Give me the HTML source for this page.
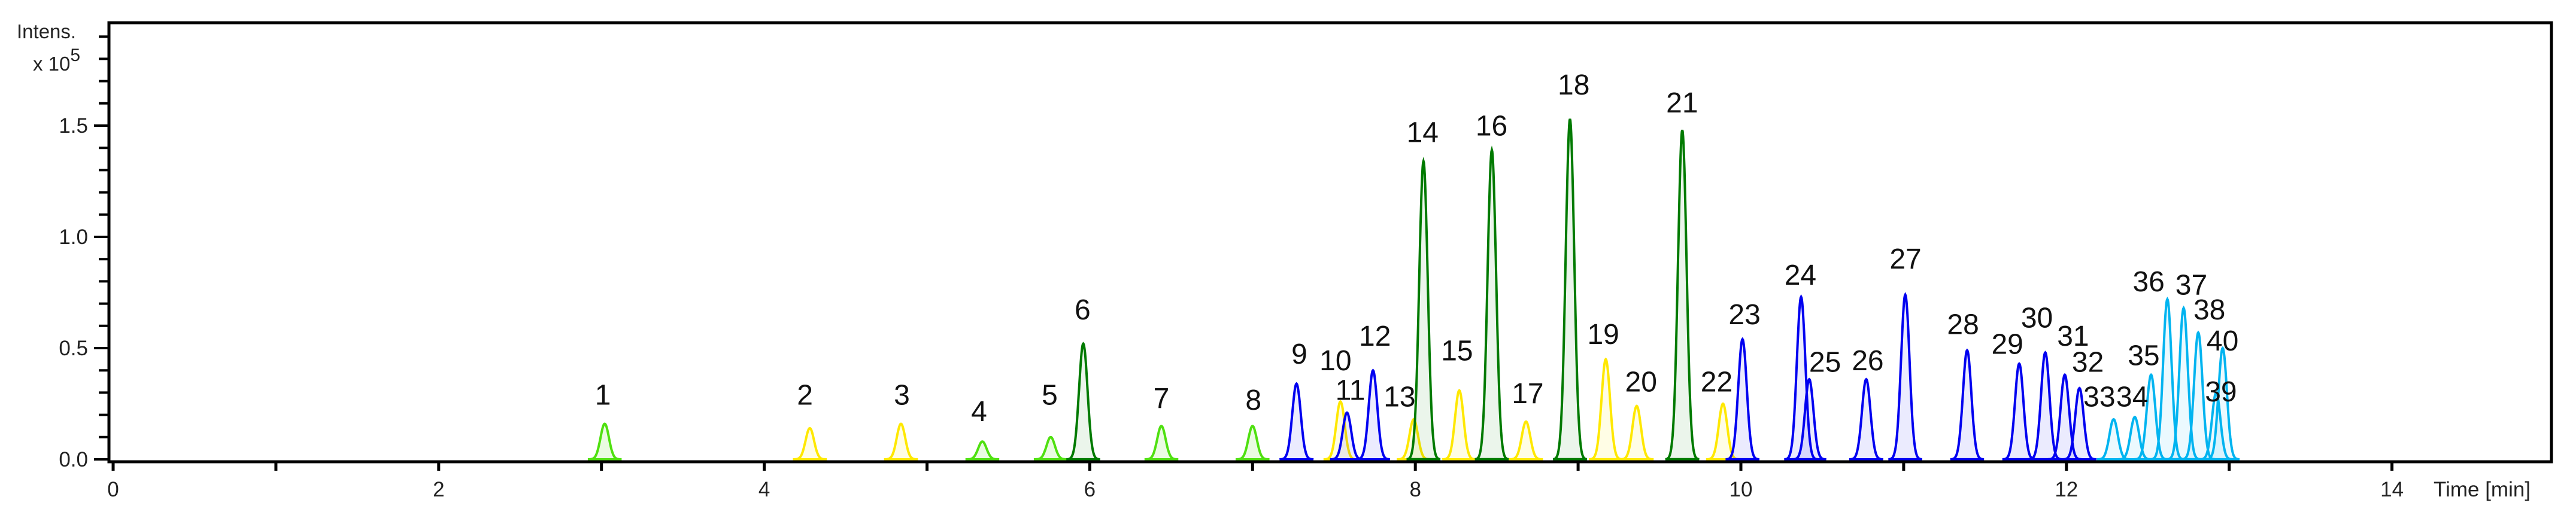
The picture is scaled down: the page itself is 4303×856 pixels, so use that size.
<!DOCTYPE html>
<html><head><meta charset="utf-8">
<style>
html,body{margin:0;padding:0;background:#fff;}
svg{display:block;}
</style></head>
<body>
<svg id="chart" width="4303" height="856" viewBox="0 0 4303 856" xmlns="http://www.w3.org/2000/svg">
  <g id="marks"></g>
  <g id="labels"></g>
  <rect x="182" y="38" width="4080" height="734" fill="none" stroke="#000" stroke-width="5"/>
  <g id="axes"></g>
  <text x="28" y="64" font-family="Liberation Sans, sans-serif" font-size="33" fill="#222">Intens.</text>
  <text x="55" y="118" font-family="Liberation Sans, sans-serif" font-size="33" fill="#222">x 10<tspan dy="-16" font-size="30">5</tspan></text>
  <text x="4065" y="830" font-family="Liberation Sans, sans-serif" font-size="35" fill="#222">Time [min]</text>
</svg>
<script>
const peakLabels = ["1","2","3","4","5","6","7","8","9","10","11","12","13","14","15","16","17","18","19","20","21","22","23","24","25","26","27","28","29","30","31","32","33","34","35","36","37","38","39","40"];
const peakTimes = [3.02,4.28,4.84,5.34,5.76,5.96,6.44,7.00,7.27,7.54,7.58,7.74,7.99,8.05,8.27,8.47,8.68,8.95,9.17,9.36,9.64,9.89,10.01,10.37,10.42,10.77,11.01,11.39,11.71,11.87,11.99,12.08,12.29,12.42,12.52,12.62,12.72,12.81,12.92,12.96];
const peakHeights = [0.16,0.14,0.16,0.08,0.10,0.52,0.15,0.15,0.34,0.26,0.21,0.40,0.18,1.34,0.31,1.39,0.17,1.53,0.45,0.24,1.48,0.25,0.54,0.73,0.36,0.36,0.74,0.49,0.43,0.48,0.38,0.32,0.18,0.19,0.38,0.72,0.68,0.57,0.30,0.50];
const peakGroups = ["lg","y","y","lg","lg","dg","lg","lg","b","y","b","b","y","dg","y","dg","y","dg","y","y","dg","y","b","b","b","b","b","b","b","b","b","b","lb","lb","lb","lb","lb","lb","lb","lb"];
const labelX = [367,490,549,596,639,659,707,763,791,813,822,837,852,866,887,908,930,958,976,999,1024,1045,1062,1096,1111,1137,1160,1195,1222,1240,1262,1271,1278,1298,1305,1308,1334,1345,1352,1353];
const labelY = [240,240,240,250,240,188,242,243,215,219,237,204,241,80,213,76,239,51,203,232,62,232,191,167,220,219,157,197,209,193,204,220,241,241,216,171,173,188,238,207];
const xTicks = [0,2,4,6,8,10,12,14];
const yTicks = [0.0,0.5,1.0,1.5];

const X0=189, XS=271.9, Y0=768, YS=372;
const xs = t => X0 + t*XS;
const ys = v => Y0 - v*YS;
const NS="http://www.w3.org/2000/svg";
const colors = {lg:"#4fe010", y:"#ffe800", dg:"#007a00", b:"#0000f0", lb:"#00b4f0"};
const fills = {lg:"rgba(80,224,16,0.12)", y:"rgba(255,232,0,0.10)", dg:"rgba(0,122,0,0.08)", b:"rgba(0,0,240,0.08)", lb:"rgba(0,180,240,0.08)"};

const marks=document.getElementById('marks');
const sig=0.026;
for(let i=0;i<peakTimes.length;i++){
  const t0=peakTimes[i], h=peakHeights[i];
  let d="";
  for(let k=-40;k<=40;k++){
    const t=t0+k*sig*4/40;
    const v=h*Math.exp(-0.5*Math.pow((t-t0)/sig,2));
    d+=(k===-40?"M":"L")+xs(t).toFixed(1)+","+ys(v).toFixed(1);
  }
  const p=document.createElementNS(NS,'path');
  p.setAttribute('d',d+"Z");
  p.setAttribute('fill',fills[peakGroups[i]]);
  p.setAttribute('stroke',colors[peakGroups[i]]);
  p.setAttribute('stroke-width','4');
  p.setAttribute('stroke-linejoin','miter');
  
  
  marks.appendChild(p);
}
const labels=document.getElementById('labels');
for(let i=0;i<peakLabels.length;i++){
  const tx=document.createElementNS(NS,'text');
  tx.setAttribute('x',labelX[i]*2.744);
  tx.setAttribute('y',labelY[i]*2.744+18);
  tx.setAttribute('text-anchor','middle');
  tx.setAttribute('font-family','Liberation Sans, sans-serif');
  tx.setAttribute('font-size','48');
  tx.setAttribute('fill','#111');
  tx.textContent=peakLabels[i];
  
  
  labels.appendChild(tx);
}
const axes=document.getElementById('axes');
function line(x1,y1,x2,y2,w){
  const l=document.createElementNS(NS,'line');
  l.setAttribute('x1',x1);l.setAttribute('y1',y1);l.setAttribute('x2',x2);l.setAttribute('y2',y2);
  l.setAttribute('stroke','#000');l.setAttribute('stroke-width',w);
  
  
  axes.appendChild(l);
}
function text(x,y,s,anchor,name){
  const tx=document.createElementNS(NS,'text');
  tx.setAttribute('x',x);tx.setAttribute('y',y);tx.setAttribute('text-anchor',anchor);
  tx.setAttribute('font-family','Liberation Sans, sans-serif');tx.setAttribute('font-size','35');tx.setAttribute('fill','#222');
  tx.textContent=s;
  
  
  axes.appendChild(tx);
}
for(let k=0;k<=19;k++){
  const v=k*0.1, y=ys(v);
  const major=(k%5===0);
  line(major?157:165,y,182,y,4);
}
yTicks.forEach(v=>text(147,ys(v)+12,v.toFixed(1),'end','y-tick-label'));
for(let k=0;k<=14;k++){
  const x=xs(k);
  line(x,772,x,787,5);
}
xTicks.forEach(t=>text(xs(t),830,String(t),'middle','x-tick-label'));
</script>
</body></html>
